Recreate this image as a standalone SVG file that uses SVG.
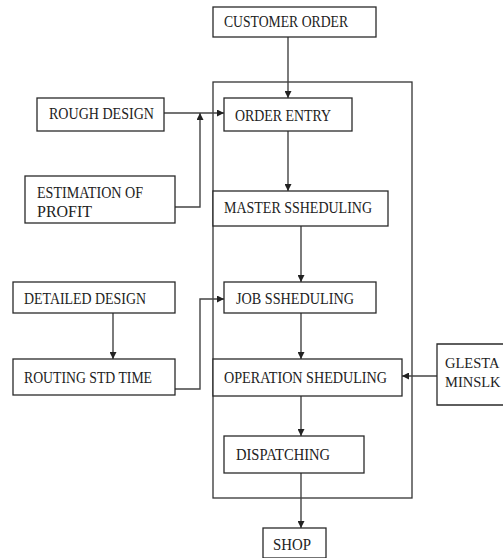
<svg xmlns="http://www.w3.org/2000/svg" width="503" height="558" viewBox="0 0 503 558">
<style>
.box{fill:#fff;stroke:#2a2a2a;stroke-width:1.3}
.frame{fill:none;stroke:#333;stroke-width:1.3}
.t{font-family:"Liberation Serif","Times New Roman",serif;font-size:16px;fill:#222}
.s{font-size:14.5px}
.c{fill:none;stroke:#444;stroke-width:1.4}
</style>
<defs>
<marker id="ah" viewBox="0 0 10 10" refX="10" refY="5" markerWidth="7" markerHeight="7" markerUnits="userSpaceOnUse" orient="auto">
<path d="M0,0 L10,5 L0,10 z" fill="#222"/>
</marker>
</defs>
<rect class="frame" x="213" y="82" width="199" height="416"/>
<g id="connectors">
<path class="c" d="M288,37 V98" marker-end="url(#ah)"/>
<path class="c" d="M164,113 H224" marker-end="url(#ah)"/>
<path class="c" d="M175,207 H200 V113" marker-end="url(#ah)"/>
<path class="c" d="M288,131 V191" marker-end="url(#ah)"/>
<path class="c" d="M301,226 V282" marker-end="url(#ah)"/>
<path class="c" d="M113,313 V359" marker-end="url(#ah)"/>
<path class="c" d="M175,389 H200 V299 H224" marker-end="url(#ah)"/>
<path class="c" d="M301,313 V359" marker-end="url(#ah)"/>
<path class="c" d="M437,376 H402" marker-end="url(#ah)"/>
<path class="c" d="M301,396 V436" marker-end="url(#ah)"/>
<path class="c" d="M301,473 V528" marker-end="url(#ah)"/>
</g>
<g id="customer-order"><rect class="box" x="213" y="7" width="163" height="30"/><text class="t" x="224" y="27" textLength="124" lengthAdjust="spacingAndGlyphs">CUSTOMER ORDER</text></g>
<g id="order-entry"><rect class="box" x="224" y="98" width="128" height="33"/><text class="t" x="235" y="121" textLength="96" lengthAdjust="spacingAndGlyphs">ORDER ENTRY</text></g>
<g id="rough-design"><rect class="box" x="37" y="98" width="127" height="33"/><text class="t" x="49" y="119" textLength="105" lengthAdjust="spacingAndGlyphs">ROUGH DESIGN</text></g>
<g id="estimation"><rect class="box" x="25" y="176" width="150" height="47"/><text class="t" x="37" y="198" textLength="106" lengthAdjust="spacingAndGlyphs">ESTIMATION OF</text><text class="t" x="37" y="217" textLength="55" lengthAdjust="spacingAndGlyphs">PROFIT</text></g>
<g id="master"><rect class="box" x="213" y="191" width="175" height="35"/><text class="t" x="224" y="213" textLength="148" lengthAdjust="spacingAndGlyphs">MASTER SSHEDULING</text></g>
<g id="detailed-design"><rect class="box" x="13" y="282" width="162" height="31"/><text class="t" x="24" y="304" textLength="122" lengthAdjust="spacingAndGlyphs">DETAILED DESIGN</text></g>
<g id="routing"><rect class="box" x="13" y="359" width="162" height="36"/><text class="t" x="24" y="383" textLength="128" lengthAdjust="spacingAndGlyphs">ROUTING STD TIME</text></g>
<g id="job"><rect class="box" x="224" y="282" width="152" height="31"/><text class="t" x="236" y="304" textLength="118" lengthAdjust="spacingAndGlyphs">JOB SSHEDULING</text></g>
<g id="operation"><rect class="box" x="213" y="359" width="189" height="37"/><text class="t" x="224" y="383" textLength="163" lengthAdjust="spacingAndGlyphs">OPERATION SHEDULING</text></g>
<g id="glesta"><path class="box" d="M503,344 H437 V405 H503"/><text class="t s" x="445" y="368">GLESTA</text><text class="t s" x="445" y="387">MINSLK</text></g>
<g id="dispatching"><rect class="box" x="224" y="436" width="140" height="37"/><text class="t" x="236" y="460" textLength="94" lengthAdjust="spacingAndGlyphs">DISPATCHING</text></g>
<g id="shop"><rect class="box" x="263" y="528" width="63" height="30"/><text class="t" x="273" y="550" textLength="38" lengthAdjust="spacingAndGlyphs">SHOP</text></g>
</svg>
